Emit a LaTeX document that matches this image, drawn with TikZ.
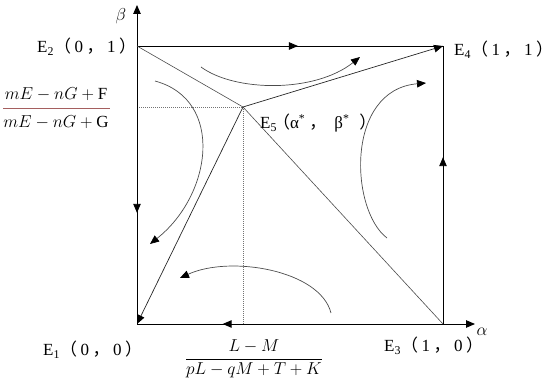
\documentclass[tikz,border=0pt]{standalone}
\usepackage{fontspec}
\setmainfont{Liberation Serif}
\newfontfamily\cjk{Noto Sans CJK SC}
\usetikzlibrary{arrows.meta,decorations.markings}
\newcommand\fwl{{\cjk （}}
\newcommand\fwr{\makebox[0.45em][l]{\cjk ）}}
\newcommand\fwc{{\cjk ，}}
\newcommand\gp{\hspace{3.5pt}}
\begin{document}
\begin{tikzpicture}[x=1pt,y=-1pt,
  tipst/.style={-{Triangle[length=9pt,width=7.5pt,color=black]}},
  edge/.style={line width=0.9pt,black},
  diag/.style={line width=0.6pt,black!70},
  flow/.style={line width=0.7pt,black!70,tipst},
  midarrow/.style={postaction={decorate},decoration={markings,
     mark=at position #1 with {\arrow{Triangle[length=9pt,width=7.5pt]}}}},
  dotln/.style={line width=0.7pt,black!55,dash pattern=on 1.2pt off 0.8pt},
  lab/.style={inner sep=0pt,font=\fontsize{17}{20}\selectfont},
  mth/.style={inner sep=0pt,font=\fontsize{17}{20}\selectfont}
]
\useasboundingbox (0,0) rectangle (550,385);
\coordinate (E1) at (137,324);
\coordinate (E2) at (137,46);
\coordinate (E3) at (443,324);
\coordinate (E4) at (443,46);
\coordinate (E5) at (243,107);
\coordinate (yb) at (137,107);
\coordinate (xb) at (243,324);
\coordinate (ytip) at (137,5);
\coordinate (xtip) at (475,324);
% dotted guides
\draw[dotln] (yb) -- (E5) -- (xb);
% axes
\draw[edge,tipst] (E1) -- (ytip);
\draw[edge,tipst] (E1) -- (xtip);
% square edges with mid arrows
\draw[edge,midarrow=0.526] (E2) -- (E4);
\draw[edge,midarrow=0.6] (E3) -- (E4);
\draw[edge,midarrow=0.6] (E2) -- (E1);
\draw[edge,midarrow=0.72] (E3) -- (E1);
% lines through E5
\draw[diag] (E2) -- (E5);
\draw[diag] (E5) -- (E3);
\draw[line width=0.7pt,black!85,tipst] (E5) -- (E4);
\draw[line width=0.7pt,black!85,tipst] (E5) -- (E1);
% flow curves
\draw[flow] (201,67) .. controls (235,92) and (315,93) .. (360,57);
\draw[flow] (155,81) .. controls (225,100) and (212,195) .. (150,244);
\draw[flow] (387,238) .. controls (350,210) and (345,90) .. (426,83);
\draw[flow] (331,313) .. controls (320,270) and (230,255) .. (180,278);
% labels
\node[lab,anchor=base west] (lE2) at (37,53) {E\textsubscript{2}\fwl\gp 0\gp\fwc\gp 1\gp\fwr};
\node[lab,anchor=base west] (lE4) at (454,56) {E\textsubscript{4}\fwl\gp 1\gp\fwc\gp 1\gp\fwr};
\node[lab,anchor=base west] (lE1) at (43,356) {E\textsubscript{1}\fwl\gp 0\gp\fwc\gp 0\gp\fwr};
\node[lab,anchor=base west] (lE3) at (384,352) {E\textsubscript{3}\fwl\gp 1\gp\fwc\gp 0\gp\fwr};
\node[lab,anchor=base west] (lE5) at (260,129) {E\textsubscript{5}\hspace{-4pt}\fwl α\textsuperscript{*}\hspace{4pt}\fwc\hspace{8pt}β\textsuperscript{*}\hspace{10pt}\fwr};
\node[mth] (lb) at (121,16) {$\beta$};
\node[mth] (la) at (482,332) {$\alpha$};
% left fraction
\node[mth] (fnum) at (56,94) {$mE-nG+\mathrm{F}$};
\node[mth] (fden) at (56,122) {$mE-nG+\mathrm{G}$};
\draw[line width=0.7pt,color={rgb,255:red,165;green,95;blue,95}] (3,108) -- (110,108);
% bottom fraction
\node[mth] (bfrac) at (254,359) {$\displaystyle\frac{L-M}{pL-qM+T+K}$};
\end{tikzpicture}
\end{document}
